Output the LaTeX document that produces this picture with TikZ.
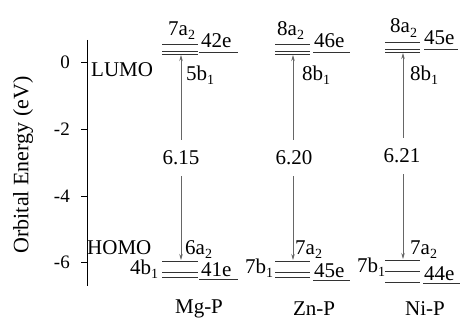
\documentclass[tikz,border=0pt]{standalone}
\usepackage{fontspec}
\setmainfont{Liberation Serif}
\usetikzlibrary{arrows.meta}
\newcommand\lsub[1]{\raisebox{-0.42ex}{\fontsize{14}{14}\selectfont #1}}
\begin{document}
\begin{tikzpicture}[x=1pt,y=-1pt,
  lbl/.style={font=\fontsize{21}{21}\selectfont, inner sep=0pt, anchor=base west},
  lev/.style={line width=0.85pt, black!80},
  arr/.style={black!60, line width=0.7pt, -{Stealth[length=6pt,width=3.5pt]}},
  gap/.style={font=\fontsize{21}{21}\selectfont, inner sep=0pt, minimum height=36pt},
  tick/.style={font=\fontsize{19}{19}\selectfont, inner sep=0pt, anchor=base east},
  cat/.style={font=\fontsize{21}{21}\selectfont, inner sep=0pt}]
\useasboundingbox (0,0) rectangle (462,321);
% axis
\draw[line width=0.8pt] (87,40) -- (87,286);
\foreach \v/\y/\n in {0/62/a,-2/129/b,-4/196/c,-6/262/d} {
  \draw[line width=0.8pt] (81,\y) -- (87,\y);
  \node[tick] (tk\n) at (70,\y+6.5) {\v};
}
\node[rotate=90, font=\fontsize{22}{22}\selectfont, inner sep=0pt] (ylab) at (23,165) {Orbital Energy (eV)};
\node[lbl] (lumo) at (91,76) {LUMO};
\node[lbl] (homo) at (87,254) {HOMO};
% ---------- Mg-P ----------
\draw[lev] (162,44) -- (198,44);
\draw[lev] (162,51) -- (198,51);
\draw[lev] (162,54) -- (198,54);
\draw[lev] (199,52) -- (238,52);
\draw[lev] (162,261) -- (198,261);
\draw[lev] (162,272) -- (198,272);
\draw[lev] (162,277) -- (198,277);
\draw[lev] (199,279) -- (238,279);
\node[lbl] (mg7a) at (168,35) {7a\lsub{2}};
\node[lbl] (mg42e) at (201,48) {42e};
\node[lbl] (mg5b) at (186,80) {5b\lsub{1}};
\node[lbl] (mg6a) at (185,254) {6a\lsub{2}};
\node[lbl] (mg4b) at (130,274) {4b\lsub{1}};
\node[lbl] (mg41e) at (201,276) {41e};
\coordinate (mgLU) at (181,55);
\coordinate (mgHO) at (181,260);
\node[gap] (mgGap) at (181,158) {6.15};
\draw[arr] (mgGap.north) -- (mgLU);
\draw[arr] (mgGap.south) -- (mgHO);
\node[cat] (mgname) at (199,309) {Mg-P};
% ---------- Zn-P ----------
\draw[lev] (275,44) -- (310,44);
\draw[lev] (275,51) -- (310,51);
\draw[lev] (275,54) -- (310,54);
\draw[lev] (313,52) -- (350,52);
\draw[lev] (275,261) -- (310,261);
\draw[lev] (275,272) -- (310,272);
\draw[lev] (275,277) -- (310,277);
\draw[lev] (313,280) -- (350,280);
\node[lbl] (zn8a) at (277,35) {8a\lsub{2}};
\node[lbl] (zn46e) at (314,48) {46e};
\node[lbl] (zn8b) at (302,80) {8b\lsub{1}};
\node[lbl] (zn7a) at (295,254) {7a\lsub{2}};
\node[lbl] (zn7b) at (245,273) {7b\lsub{1}};
\node[lbl] (zn45e) at (314,277) {45e};
\coordinate (znLU) at (293,55);
\coordinate (znHO) at (293,260);
\node[gap] (znGap) at (294,158) {6.20};
\draw[arr] ([xshift=-1pt]znGap.north) -- (znLU);
\draw[arr] ([xshift=-1pt]znGap.south) -- (znHO);
\node[cat] (znname) at (314,309) {Zn-P};
% ---------- Ni-P ----------
\draw[lev] (385,42) -- (420,42);
\draw[lev] (385,49) -- (420,49);
\draw[lev] (385,52) -- (420,52);
\draw[lev] (424,49) -- (458,49);
\draw[lev] (385,260) -- (420,260);
\draw[lev] (385,271) -- (420,271);
\draw[lev] (385,282) -- (420,282);
\draw[lev] (423,283) -- (460,283);
\node[lbl] (ni8a) at (390,33) {8a\lsub{2}};
\node[lbl] (ni45e) at (424,45) {45e};
\node[lbl] (ni8b) at (410,80) {8b\lsub{1}};
\node[lbl] (ni7a) at (410,254) {7a\lsub{2}};
\node[lbl] (ni7b) at (357,272) {7b\lsub{1}};
\node[lbl] (ni44e) at (424,280) {44e};
\coordinate (niLU) at (403,53);
\coordinate (niHO) at (403,259);
\node[gap] (niGap) at (402,156) {6.21};
\draw[arr] ([xshift=1pt]niGap.north) -- (niLU);
\draw[arr] ([xshift=1pt]niGap.south) -- (niHO);
\node[cat] (niname) at (425,309) {Ni-P};
\end{tikzpicture}
\end{document}
